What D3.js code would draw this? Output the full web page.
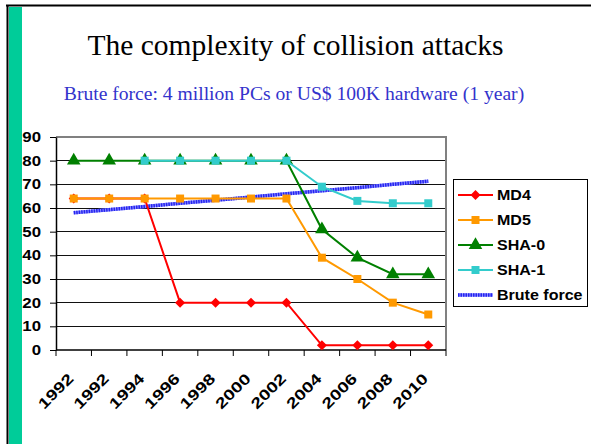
<!DOCTYPE html>
<html>
<head>
<meta charset="utf-8">
<script src="https://cdn.jsdelivr.net/npm/d3@7"></script>
<style>
  body { margin: 0; background: #fff; }
  svg { display: block; }
</style>
</head>
<body>
<script>
// chart values
const years = ["1992", "1992", "1994", "1996", "1998", "2000", "2002", "2004", "2006", "2008", "2010"];
const md4 = [64, 64, 64, 20, 20, 20, 20, 2, 2, 2, 2];
const md5 = [64, 64, 64, 64, 64, 64, 64, 39, 30, 20, 15];
const sha0 = [80, 80, 80, 80, 80, 80, 80, 51, 39, 32, 32];
const sha1 = [null, null, 80, 80, 80, 80, 80, 69, 63, 62, 62];
const bruteForce = [58, 59.3, 60.6, 62, 63.3, 64.6, 66, 67.3, 68.6, 70, 71.3];
const yTicks = [0, 10, 20, 30, 40, 50, 60, 70, 80, 90];

const width = 591, height = 444;

const svg = d3.select("body").append("svg")
    .attr("width", width)
    .attr("height", height);

svg.append("rect").attr("width", width).attr("height", height).attr("fill", "#fff");

// slide frame: black border + green stripe on the left
svg.append("rect")
    .attr("x", 9).attr("y", 7)
    .attr("width", 13).attr("height", height - 7)
    .attr("fill", "#00cc99");
svg.append("line")
    .attr("x1", 6).attr("x2", width).attr("y1", 5.5).attr("y2", 5.5)
    .attr("stroke", "#000").attr("stroke-width", 2);
svg.append("line")
    .attr("x1", 7.5).attr("x2", 7.5).attr("y1", 5).attr("y2", height)
    .attr("stroke", "#000").attr("stroke-width", 2);

// titles
svg.append("text")
    .attr("x", 295.5).attr("y", 55)
    .attr("text-anchor", "middle")
    .style("font-family", "'Liberation Serif', 'Times New Roman', serif")
    .style("font-size", "29.5px")
    .text("The complexity of collision attacks");

svg.append("text")
    .attr("x", 294).attr("y", 100)
    .attr("text-anchor", "middle")
    .attr("fill", "#3333cc")
    .style("font-family", "'Liberation Serif', 'Times New Roman', serif")
    .style("font-size", "19.6px")
    .text("Brute force: 4 million PCs or US$ 100K hardware (1 year)");

// plot area
const plot = { left: 56, right: 446, top: 137, bottom: 350 };

const x = d3.scaleBand()
    .domain(d3.range(years.length))
    .range([plot.left, plot.right])
    .padding(0);
const cx = i => x(i) + x.bandwidth() / 2;

const y = d3.scaleLinear()
    .domain([0, 90])
    .range([plot.bottom, plot.top]);

const labelFont = "'Liberation Sans', Arial, sans-serif";

// the chart on the slide was stretched sideways, so its bold labels are wide
function boldLabel(sel, size) {
    sel.style("font-family", labelFont)
        .style("font-weight", "bold")
        .style("font-size", size + "px")
        .attr("fill", "#000");
}

// gridlines
svg.append("g")
    .selectAll("line")
    .data(yTicks.filter(d => d > 0 && d < 90))
    .join("line")
    .attr("x1", plot.left).attr("x2", plot.right)
    .attr("y1", d => y(d)).attr("y2", d => y(d))
    .attr("stroke", "#111").attr("stroke-width", 1)
    .attr("shape-rendering", "crispEdges");

// plot-area border (top + right), grey
svg.append("path")
    .attr("d", `M${plot.left},${y(90)}H${plot.right}V${plot.bottom}`)
    .attr("fill", "none")
    .attr("stroke", "#808080")
    .attr("stroke-width", 2);

// y axis
const yAxis = svg.append("g")
    .attr("transform", `translate(${plot.left},0)`)
    .call(d3.axisLeft(y).tickValues(yTicks).tickSize(6).tickSizeOuter(0));
yAxis.select(".domain").attr("stroke", "#000").attr("stroke-width", 1.5);
yAxis.selectAll(".tick line").attr("stroke", "#000");
yAxis.selectAll(".tick text")
    .attr("x", 0)
    .attr("transform", "translate(-15,0) scale(1.2,1)")
    .call(boldLabel, 14);

// x axis: ticks sit on category boundaries
const xAxis = svg.append("g")
    .attr("transform", `translate(0,${plot.bottom})`);
xAxis.append("line")
    .attr("x1", plot.left).attr("x2", plot.right)
    .attr("stroke", "#000").attr("stroke-width", 1.5);
xAxis.selectAll(".xtick")
    .data(d3.range(years.length + 1))
    .join("line")
    .attr("class", "xtick")
    .attr("x1", i => i < years.length ? x(i) : plot.right)
    .attr("x2", i => i < years.length ? x(i) : plot.right)
    .attr("y1", 0).attr("y2", 6)
    .attr("stroke", "#000");
xAxis.selectAll(".xlabel")
    .data(years)
    .join("text")
    .attr("class", "xlabel")
    .attr("text-anchor", "end")
    .attr("transform", (d, i) => `translate(${cx(i) - 3},${26}) rotate(-45) scale(1.28,1)`)
    .attr("dy", "0.35em")
    .call(boldLabel, 15)
    .text(d => d);

// series
const series = [
    { name: "MD4", values: md4, color: "#ff0000", marker: "diamond" },
    { name: "MD5", values: md5, color: "#ff9900", marker: "square" },
    { name: "SHA-0", values: sha0, color: "#008000", marker: "triangle" },
    { name: "SHA-1", values: sha1, color: "#33cccc", marker: "square" },
];

const markerPath = {
    diamond: d3.symbol(d3.symbolDiamond2, 64),
    square: d3.symbol(d3.symbolSquare, 64),
    triangle: d3.symbol(d3.symbolTriangle, 80),
};

const line = d3.line()
    .defined(d => d != null)
    .x((d, i) => cx(i))
    .y(d => y(d));

// brute force line: thick blue with hatched look
const bruteLine = d3.line().x((d, i) => cx(i)).y(d => y(d));
svg.append("path")
    .attr("d", bruteLine(bruteForce))
    .attr("fill", "none")
    .attr("stroke", "#8c8cff")
    .attr("stroke-width", 3.5);
svg.append("path")
    .attr("d", bruteLine(bruteForce))
    .attr("fill", "none")
    .attr("stroke", "#2424f0")
    .attr("stroke-width", 3.5)
    .attr("stroke-dasharray", "1.5,1");

series.forEach(s => {
    svg.append("path")
        .attr("d", line(s.values))
        .attr("fill", "none")
        .attr("stroke", s.color)
        .attr("stroke-width", 2);
    svg.append("g")
        .selectAll("path")
        .data(s.values.map((v, i) => ({ v, i })).filter(d => d.v != null))
        .join("path")
        .attr("transform", d => `translate(${cx(d.i)},${y(d.v)})`)
        .attr("d", markerPath[s.marker]())
        .attr("fill", s.color);
});

// legend
const legend = svg.append("g").attr("transform", "translate(453,179)");
legend.append("rect")
    .attr("x", 0.5).attr("y", 0.5)
    .attr("width", 134).attr("height", 127)
    .attr("fill", "#fff")
    .attr("stroke", "#000");

const legendItems = series.concat([{ name: "Brute force", color: "#2424f0", marker: null }]);
const rowY = i => 16 + i * 25;

legendItems.forEach((s, i) => {
    const g = legend.append("g").attr("transform", `translate(0,${rowY(i)})`);
    if (s.marker) {
        g.append("line")
            .attr("x1", 5).attr("x2", 40)
            .attr("stroke", s.color).attr("stroke-width", 2);
        g.append("path")
            .attr("transform", "translate(22.5,0)")
            .attr("d", markerPath[s.marker]())
            .attr("fill", s.color);
    } else {
        g.append("line")
            .attr("x1", 5).attr("x2", 40)
            .attr("stroke", "#8c8cff").attr("stroke-width", 3.5);
        g.append("line")
            .attr("x1", 5).attr("x2", 40)
            .attr("stroke", "#2424f0").attr("stroke-width", 3.5)
            .attr("stroke-dasharray", "1.5,1");
    }
    g.append("text")
        .attr("transform", "translate(44,0) scale(1.07,1)")
        .attr("dy", "0.36em")
        .call(boldLabel, 15)
        .text(s.name);
});
</script>
</body>
</html>
